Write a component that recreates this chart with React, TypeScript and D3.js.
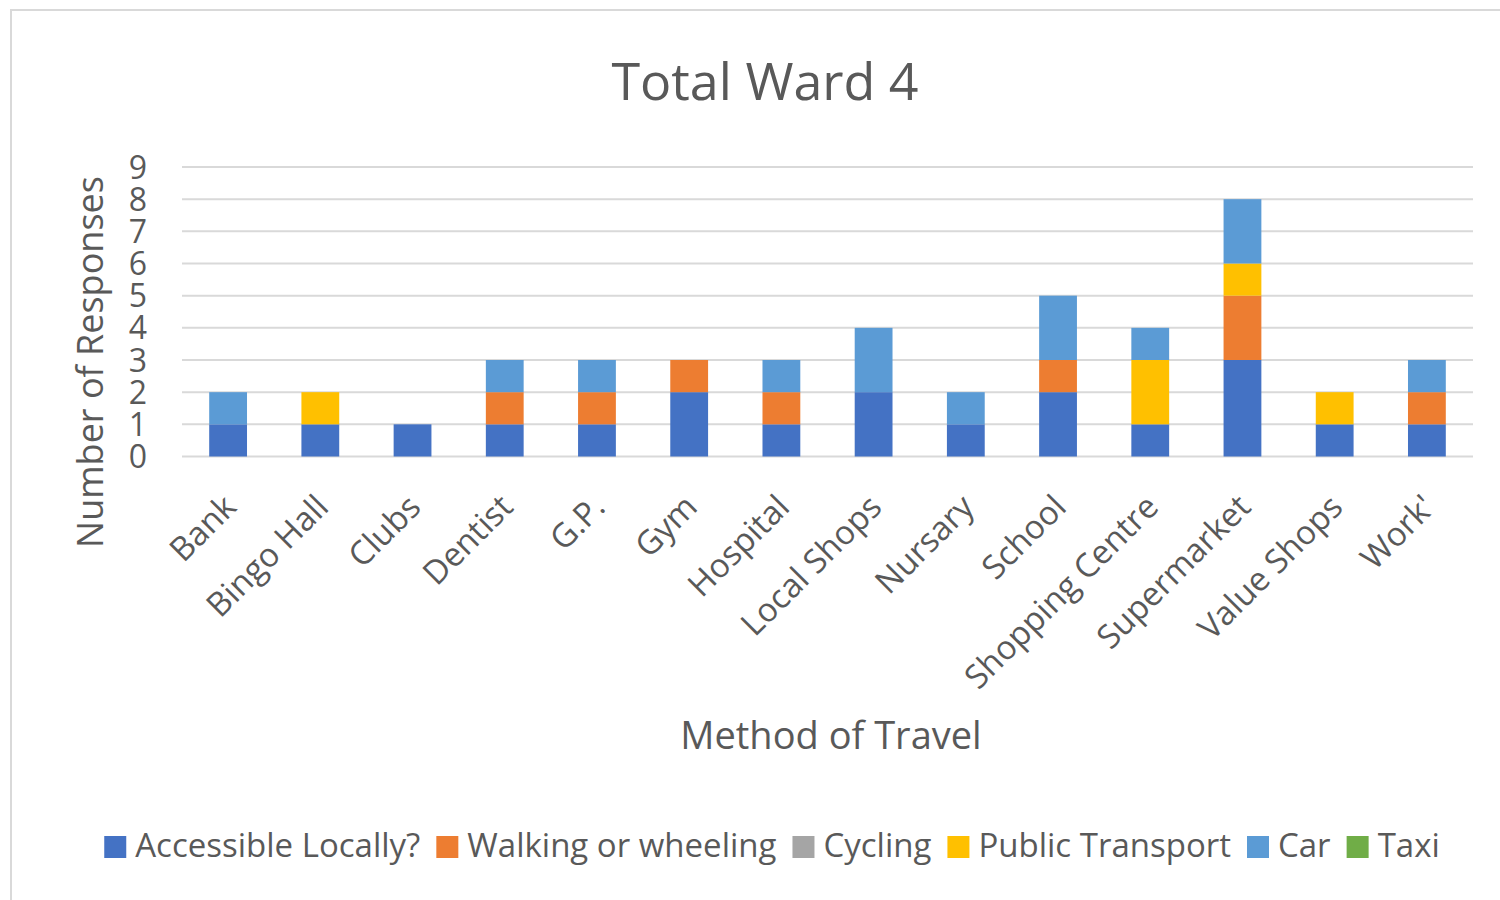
import React, { useRef, useEffect } from "react";
import * as d3 from "d3";

const categories = [
  "Bank",
  "Bingo Hall",
  "Clubs",
  "Dentist",
  "G.P.",
  "Gym",
  "Hospital",
  "Local Shops",
  "Nursary",
  "School",
  "Shopping Centre",
  "Supermarket",
  "Value Shops",
  "Work'",
];

const seriesNames = [
  "Accessible Locally?",
  "Walking or wheeling",
  "Cycling",
  "Public Transport",
  "Car",
  "Taxi",
];
const seriesColors = ["#4472C4", "#ED7D31", "#A5A5A5", "#FFC000", "#5B9BD5", "#70AD47"];

const accessible = [1, 1, 1, 1, 1, 2, 1, 2, 1, 2, 1, 3, 1, 1];
const walking = [0, 0, 0, 1, 1, 1, 1, 0, 0, 1, 0, 2, 0, 1];
const cycling = [0, 0, 0, 0, 0, 0, 0, 0, 0, 0, 0, 0, 0, 0];
const publicTransport = [0, 1, 0, 0, 0, 0, 0, 0, 0, 0, 2, 1, 1, 0];
const car = [1, 0, 0, 1, 1, 0, 1, 2, 1, 2, 1, 2, 0, 1];
const taxi = [0, 0, 0, 0, 0, 0, 0, 0, 0, 0, 0, 0, 0, 0];

const yTicks = [0, 1, 2, 3, 4, 5, 6, 7, 8, 9];

export default function App() {
  const ref = useRef<SVGSVGElement>(null);

  useEffect(() => {
    const width = 1500;
    const height = 900;
    const font = "'Open Sans', sans-serif";
    const textColor = "#595959";
    const grid = "#d9d9d9";

    const svg = d3.select(ref.current);
    svg.selectAll("*").remove();
    svg.attr("width", width).attr("height", height);

    // chart frame (runs off the right and bottom edges)
    svg
      .append("rect")
      .attr("x", 11)
      .attr("y", 10)
      .attr("width", width)
      .attr("height", height)
      .attr("fill", "#fff")
      .attr("stroke", grid)
      .attr("stroke-width", 2);

    const x = d3.scaleBand().domain(categories).range([182, 1473]).paddingInner(0.59).paddingOuter(0.295);
    const y = d3.scaleLinear().domain([0, 9]).range([456.5, 167]);

    // gridlines
    svg
      .append("g")
      .selectAll("line")
      .data(yTicks)
      .join("line")
      .attr("x1", 182)
      .attr("x2", 1473)
      .attr("y1", (d) => y(d))
      .attr("y2", (d) => y(d))
      .attr("stroke", grid)
      .attr("stroke-width", 2);

    // stacked bars
    const rows = categories.map((c, i) => ({
      cat: c,
      s0: accessible[i],
      s1: walking[i],
      s2: cycling[i],
      s3: publicTransport[i],
      s4: car[i],
      s5: taxi[i],
    }));
    const stack = d3.stack<any>().keys(["s0", "s1", "s2", "s3", "s4", "s5"]);
    const layers = stack(rows);

    svg
      .append("g")
      .selectAll("g")
      .data(layers)
      .join("g")
      .attr("fill", (_d, i) => seriesColors[i])
      .selectAll("rect")
      .data((d) => d.filter((p) => p[1] > p[0]))
      .join("rect")
      .attr("x", (d) => x(d.data.cat)!)
      .attr("width", x.bandwidth())
      .attr("y", (d) => y(d[1]))
      .attr("height", (d) => y(d[0]) - y(d[1]));

    // y tick labels
    svg
      .append("g")
      .selectAll("text")
      .data(yTicks)
      .join("text")
      .attr("x", 147)
      .attr("y", (d) => y(d))
      .attr("dy", "0.36em")
      .attr("text-anchor", "end")
      .attr("font-family", font)
      .attr("font-size", 32)
      .attr("fill", textColor)
      .text((d) => d);

    // x tick labels, rotated
    svg
      .append("g")
      .selectAll("text")
      .data(categories)
      .join("text")
      .attr("transform", (d) => `translate(${x(d)! + x.bandwidth() / 2 + 10},509) rotate(-45)`)
      .attr("text-anchor", "end")
      .attr("font-family", font)
      .attr("font-size", 33)
      .attr("fill", textColor)
      .text((d) => d);

    // title
    svg
      .append("text")
      .attr("x", 765)
      .attr("y", 100)
      .attr("text-anchor", "middle")
      .attr("font-family", font)
      .attr("font-size", 52)
      .attr("fill", textColor)
      .text("Total Ward 4");

    // axis titles
    svg
      .append("text")
      .attr("transform", "translate(103,362) rotate(-90)")
      .attr("text-anchor", "middle")
      .attr("font-family", font)
      .attr("font-size", 36)
      .attr("fill", textColor)
      .text("Number of Responses");

    svg
      .append("text")
      .attr("x", 831)
      .attr("y", 749)
      .attr("text-anchor", "middle")
      .attr("font-family", font)
      .attr("font-size", 38)
      .attr("fill", textColor)
      .text("Method of Travel");

    // legend
    const legend = svg.append("g");
    const items = legend
      .selectAll("g")
      .data(seriesNames)
      .join("g");
    items
      .append("rect")
      .attr("width", 22)
      .attr("height", 22)
      .attr("y", 836)
      .attr("fill", (_d, i) => seriesColors[i]);
    items
      .append("text")
      .attr("x", 31)
      .attr("y", 857)
      .attr("font-family", font)
      .attr("font-size", 33)
      .attr("fill", textColor)
      .text((d) => d);

    let cursor = 0;
    const offsets: number[] = [];
    items.each(function () {
      const t = d3.select(this).select("text").node() as SVGTextElement;
      offsets.push(cursor);
      cursor += 31 + t.getComputedTextLength() + 16;
    });
    const total = cursor - 16;
    const start = 772 - total / 2;
    items.attr("transform", (_d, i) => `translate(${start + offsets[i]},0)`);
  }, []);

  return (
    <div style={{ position: "absolute", left: 0, top: 0 }}>
      <svg ref={ref} style={{ display: "block" }} />
    </div>
  );
}
